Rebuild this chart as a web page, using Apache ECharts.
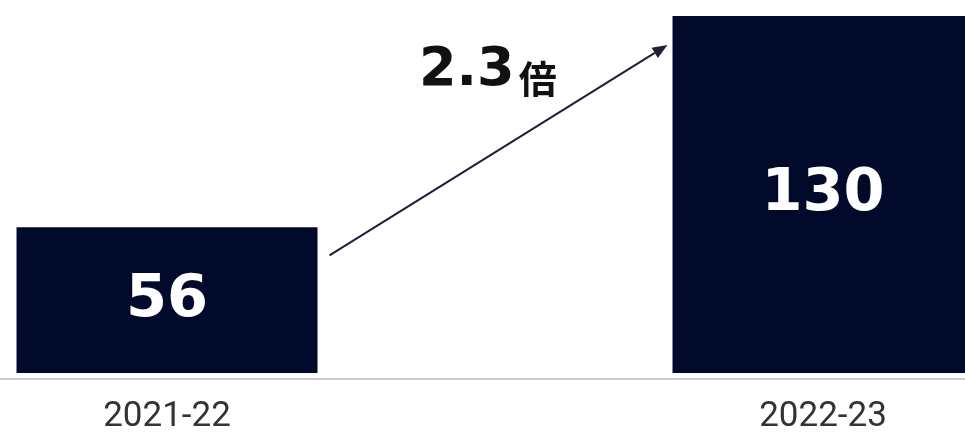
<!DOCTYPE html>
<html>
<head>
<meta charset="utf-8">
<script src="https://cdn.jsdelivr.net/npm/echarts@6/dist/echarts.min.js"></script>
<style>
html,body{margin:0;padding:0;background:#fff;overflow:hidden;width:965px;height:435px;position:relative;}
#chart{position:absolute;left:-161px;top:0;width:1312px;height:435px;}
</style>
</head>
<body>
<div id="chart"></div>
<script>
const categories = ['2021-22', '2022-23'];
const values = [56, 130];
const growthLabel = '2.3';
const growthUnit = '倍';

const SHIFT = 161; // chart div is shifted left so that the 2nd bar is cut by the page edge
const chart = echarts.init(document.getElementById('chart'), null, {renderer: 'canvas'});
const BAR_W = 301;
const option = {
  animation: false,
  backgroundColor: '#ffffff',
  grid: {left: 0, right: 0, top: 16, bottom: 57, containLabel: false},
  xAxis: {
    type: 'category',
    data: categories,
    offset: 6,
    axisLine: {show: true, lineStyle: {color: '#c9ccd3', width: 2}},
    axisTick: {show: false},
    axisLabel: {
      margin: 21,
      fontSize: 35,
      color: '#333333',
      fontFamily: 'Roboto, "Noto Sans", sans-serif'
    }
  },
  yAxis: {
    type: 'value',
    min: 5,
    max: 130,
    show: false,
    splitLine: {show: false}
  },
  series: [{
    type: 'bar',
    data: values,
    barWidth: BAR_W,
    itemStyle: {color: '#020a2b'},
    label: {
      show: true,
      position: 'inside',
      color: '#ffffff',
      fontSize: 59,
      fontWeight: 'bold',
      fontFamily: '"DejaVu Sans", sans-serif'
    }
  }]
};
chart.setOption(option);

const p1 = chart.convertToPixel({seriesIndex: 0}, [0, values[0]]);
const p2 = chart.convertToPixel({seriesIndex: 0}, [1, values[1]]);
const x1 = p1[0] + BAR_W / 2 + 12, y1 = p1[1] + 28;
const x2 = p2[0] - BAR_W / 2 - 5, y2 = p2[1] + 29;
const ang = Math.atan2(y2 - y1, x2 - x1);
const hl = 15, hw = 6;
const bx = x2 - hl * Math.cos(ang), by = y2 - hl * Math.sin(ang);
const px = -Math.sin(ang) * hw, py = Math.cos(ang) * hw;

chart.setOption({
  graphic: [
    {
      type: 'line',
      shape: {x1: x1, y1: y1, x2: bx, y2: by},
      style: {stroke: '#1c2038', lineWidth: 2}
    },
    {
      type: 'polygon',
      shape: {points: [[x2, y2], [bx + px, by + py], [bx - px, by - py]]},
      style: {fill: '#1c2038'}
    },
    {
      type: 'text',
      left: 419 + SHIFT,
      top: 44,
      style: {
        text: '{a|' + growthLabel + '}{b|' + growthUnit + '}',
        rich: {
          a: {fontSize: 54, fontWeight: 'bold', fill: '#111111', fontFamily: '"DejaVu Sans", sans-serif', verticalAlign: 'bottom', lineHeight: 58},
          b: {fontSize: 38, fontWeight: 700, fill: '#111111', fontFamily: '"Noto Sans CJK JP", sans-serif', verticalAlign: 'bottom', lineHeight: 58, padding: [0, 0, 0, 4]}
        }
      }
    }
  ]
});
</script>
</body>
</html>
